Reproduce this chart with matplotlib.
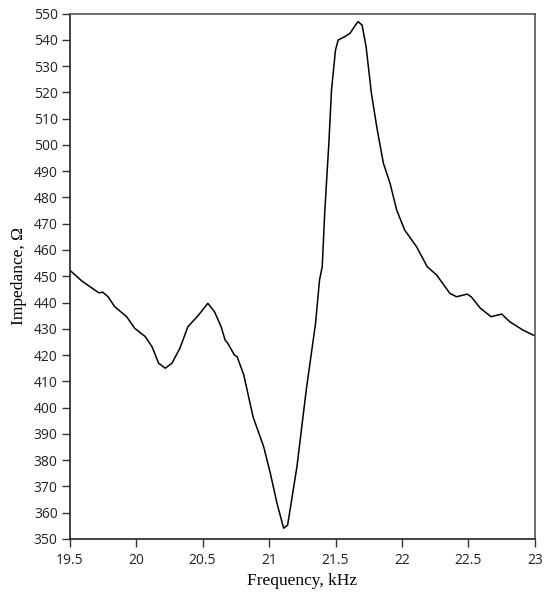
import matplotlib
matplotlib.use("Agg")
import matplotlib.pyplot as plt

freq_khz = [19.50, 19.59, 19.72, 19.75, 19.79, 19.84, 19.93, 19.99, 20.07, 20.12,
            20.17, 20.22, 20.27, 20.33, 20.39, 20.47, 20.54, 20.59, 20.64, 20.67,
            20.69, 20.74, 20.76, 20.81, 20.88, 20.96, 21.01, 21.06, 21.11, 21.14,
            21.21, 21.28, 21.35, 21.38, 21.40, 21.42, 21.45, 21.47, 21.50, 21.52,
            21.57, 21.61, 21.65, 21.67, 21.70, 21.73, 21.77, 21.81, 21.86, 21.91,
            21.96, 22.02, 22.11, 22.19, 22.26, 22.36, 22.41, 22.49, 22.52, 22.59,
            22.67, 22.75, 22.81, 22.91, 23.00]
impedance_ohm = [452.4, 448.3, 443.7, 443.9, 442.2, 438.4, 434.6, 430.2, 427.0, 423.2,
                 416.9, 415.0, 416.9, 422.6, 430.8, 435.2, 439.7, 436.5, 430.8, 425.7,
                 424.5, 420.0, 419.4, 412.5, 396.5, 385.1, 375.0, 363.6, 354.1, 355.3,
                 377.5, 406.7, 432.1, 448.6, 453.6, 475.2, 500.6, 520.9, 536.1, 539.9,
                 541.2, 542.5, 545.6, 546.9, 545.6, 537.4, 519.6, 506.9, 493.0, 485.4,
                 475.2, 467.6, 461.2, 453.6, 450.5, 443.5, 442.2, 443.2, 442.2, 437.8,
                 434.6, 435.6, 432.7, 429.5, 427.3]

x_ticks = [19.5, 20, 20.5, 21, 21.5, 22, 22.5, 23]
x_tick_labels = ["19.5", "20", "20.5", "21", "21.5", "22", "22.5", "23"]
y_ticks = list(range(350, 551, 10))

fig = plt.figure(figsize=(5.5, 6.01), dpi=100)
ax = fig.add_axes([0.1264, 0.1032, 0.9727 - 0.1264, 0.9775 - 0.1032])
ax.plot(freq_khz, impedance_ohm, color="black", linewidth=1.1)

ax.set_xlim(19.5, 23)
ax.set_ylim(350, 550)
ax.set_xticks(x_ticks)
ax.set_xticklabels(x_tick_labels)
ax.set_yticks(y_ticks)

for lab in ax.get_xticklabels() + ax.get_yticklabels():
    lab.set_fontfamily(["Open Sans", "DejaVu Sans"])
    lab.set_fontsize(10)
    lab.set_color("#222222")

ax.tick_params(axis="both", direction="out", length=5.5, width=1, color="#333333", pad=3)
ax.tick_params(axis="x", pad=4.5)
ax.tick_params(top=False, right=False)

for s in ["left", "bottom"]:
    ax.spines[s].set_color("#222222")
    ax.spines[s].set_linewidth(1.2)
for s in ["top", "right"]:
    ax.spines[s].set_color("#555555")
    ax.spines[s].set_linewidth(1.2)

ax.set_xlabel("Frequency, kHz", fontfamily="Liberation Serif", fontsize=12.5, labelpad=4)
ax.set_ylabel("Impedance, Ω", fontfamily="Liberation Serif", fontsize=12.5, labelpad=5)

fig.savefig("out.png", dpi=100, facecolor="white")
